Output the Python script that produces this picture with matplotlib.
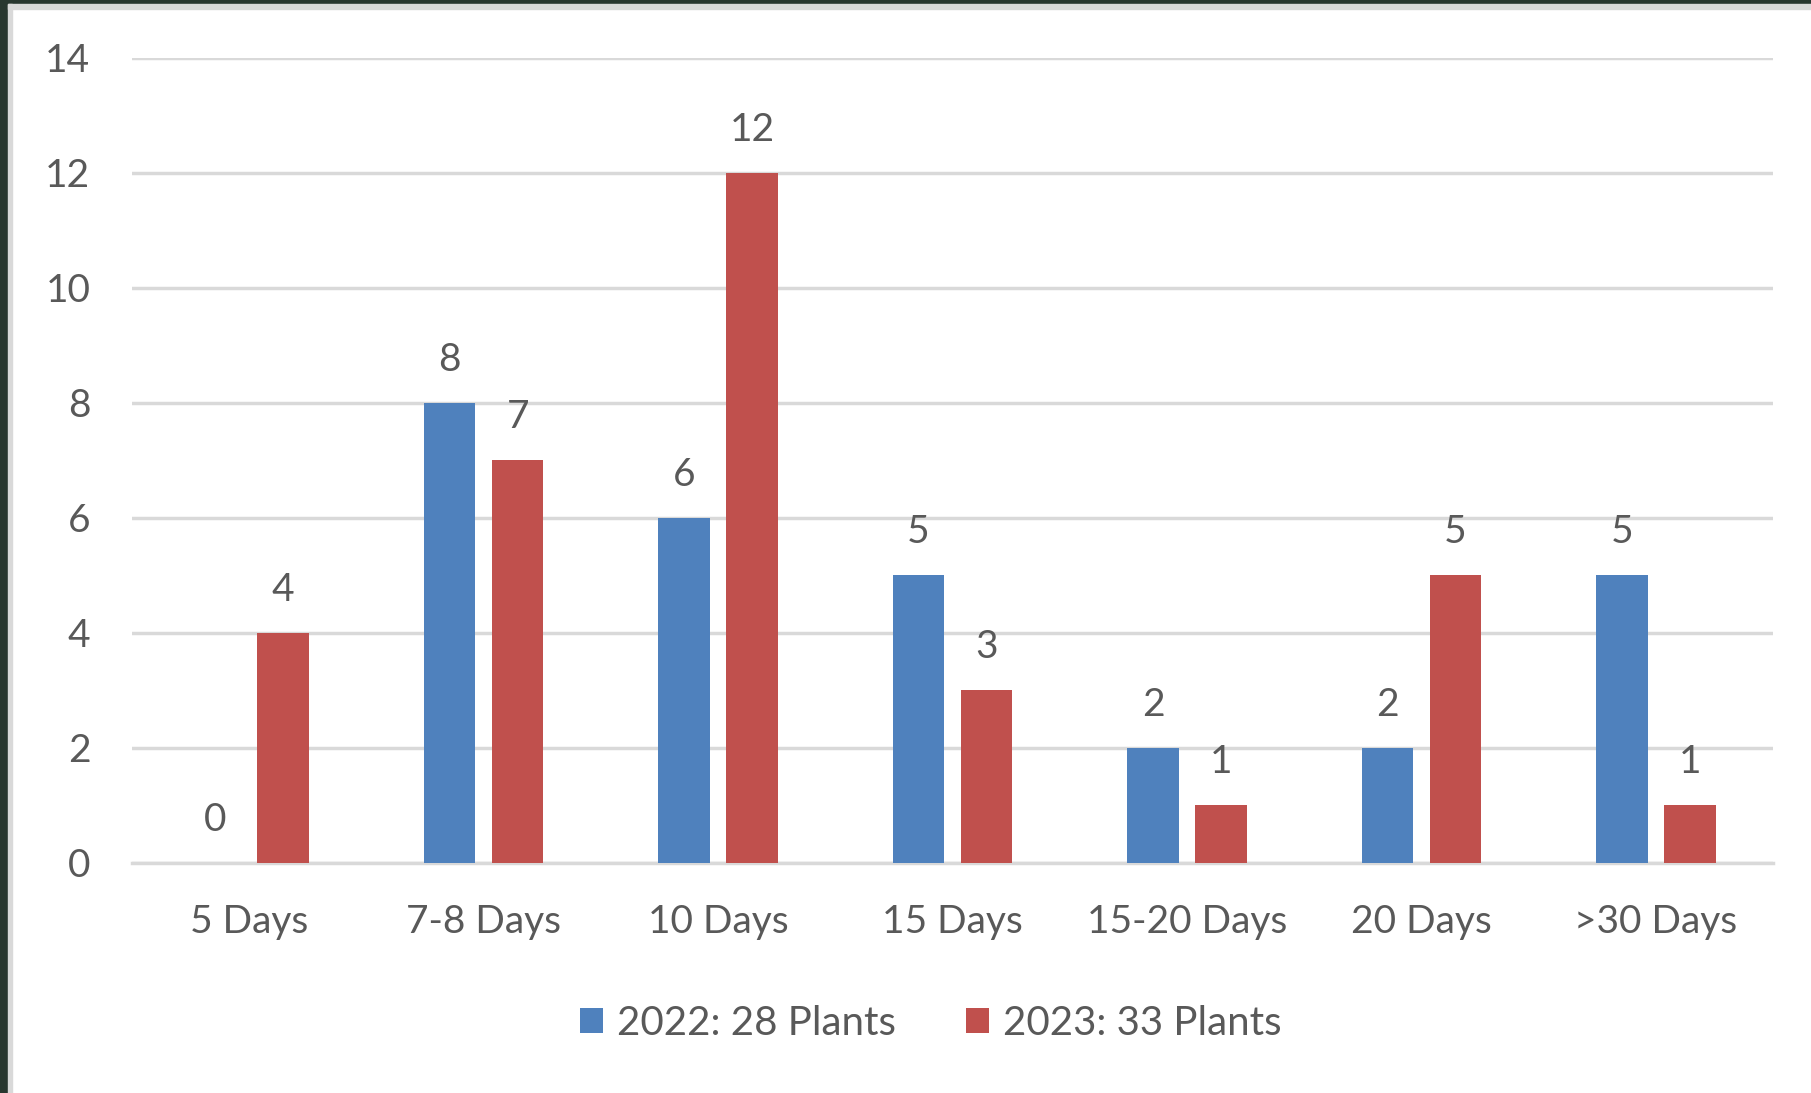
import numpy as np
import matplotlib.pyplot as plt
from matplotlib.patches import Rectangle

# ---------------------------
# Data
# ---------------------------
categories = ["5 Days", "7-8 Days", "10 Days", "15 Days", "15-20 Days", "20 Days", ">30 Days"]
plants_2022 = [0, 8, 6, 5, 2, 2, 5]
plants_2023 = [4, 7, 12, 3, 1, 5, 1]
series_names = ["2022: 28 Plants", "2023: 33 Plants"]
yticks = [0, 2, 4, 6, 8, 10, 12, 14]

BLUE = "#4F81BD"
RED = "#C0504D"
TEXT = "#595959"
GRID = "#D9D9D9"

plt.rcParams['font.family'] = ['Lato', 'DejaVu Sans']

# ---------------------------
# Figure
# ---------------------------
fig = plt.figure(figsize=(18.11, 10.93), dpi=100)
fig.patch.set_facecolor("white")

# dark frame strips on the left and top edges, with light gray inner border
fig.patches.append(Rectangle((0, 0), 8 / 1811, 1, transform=fig.transFigure,
                             color="#28372F", zorder=0))
fig.patches.append(Rectangle((0, 1 - 4 / 1093), 1, 4 / 1093, transform=fig.transFigure,
                             color="#28372F", zorder=0))
fig.patches.append(Rectangle((8 / 1811, 0), 4 / 1811, 1 - 4 / 1093, transform=fig.transFigure,
                             color="#D9D9D9", zorder=0))
fig.patches.append(Rectangle((8 / 1811, 1 - 9 / 1093), 1, 5 / 1093, transform=fig.transFigure,
                             color="#D9D9D9", zorder=0))

ax = fig.add_axes([0.0729, 0.2107, 0.9062, 0.7365])

x = np.arange(len(categories))
w = 0.22
off = 0.145
b1 = ax.bar(x - off, plants_2022, w, color=BLUE, label=series_names[0], zorder=3)
b2 = ax.bar(x + off, plants_2023, w, color=RED, label=series_names[1], zorder=3)

for bars, vals in [(b1, plants_2022), (b2, plants_2023)]:
    for rect, v in zip(bars, vals):
        ax.annotate(str(v), (rect.get_x() + rect.get_width() / 2, v),
                    xytext=(0, 31), textcoords="offset points",
                    ha="center", va="center", fontsize=28, color=TEXT)

ax.set_xlim(-0.5, len(categories) - 0.5)
ax.set_ylim(0, 14)
ax.set_yticks(yticks)
ax.set_xticks(x)
ax.set_xticklabels(categories)

ax.yaxis.grid(True, color=GRID, linewidth=2.5, zorder=0)
ax.set_axisbelow(True)
for s in ["top", "right", "left"]:
    ax.spines[s].set_visible(False)
ax.spines["bottom"].set_color(GRID)
ax.spines["bottom"].set_linewidth(2.5)
ax.spines["bottom"].set_zorder(2)

ax.tick_params(axis="both", length=0, labelsize=28, labelcolor=TEXT)
ax.tick_params(axis="x", pad=30)
ax.tick_params(axis="y", pad=30)

fig.legend(handles=[b1, b2], labels=series_names, loc="center",
           bbox_to_anchor=(0.514, 0.064), ncol=2, frameon=False,
           fontsize=29, labelcolor=TEXT, handlelength=0.57, handleheight=0.57,
           handletextpad=0.35, columnspacing=1.75)

fig.savefig("out.png", dpi=100)
